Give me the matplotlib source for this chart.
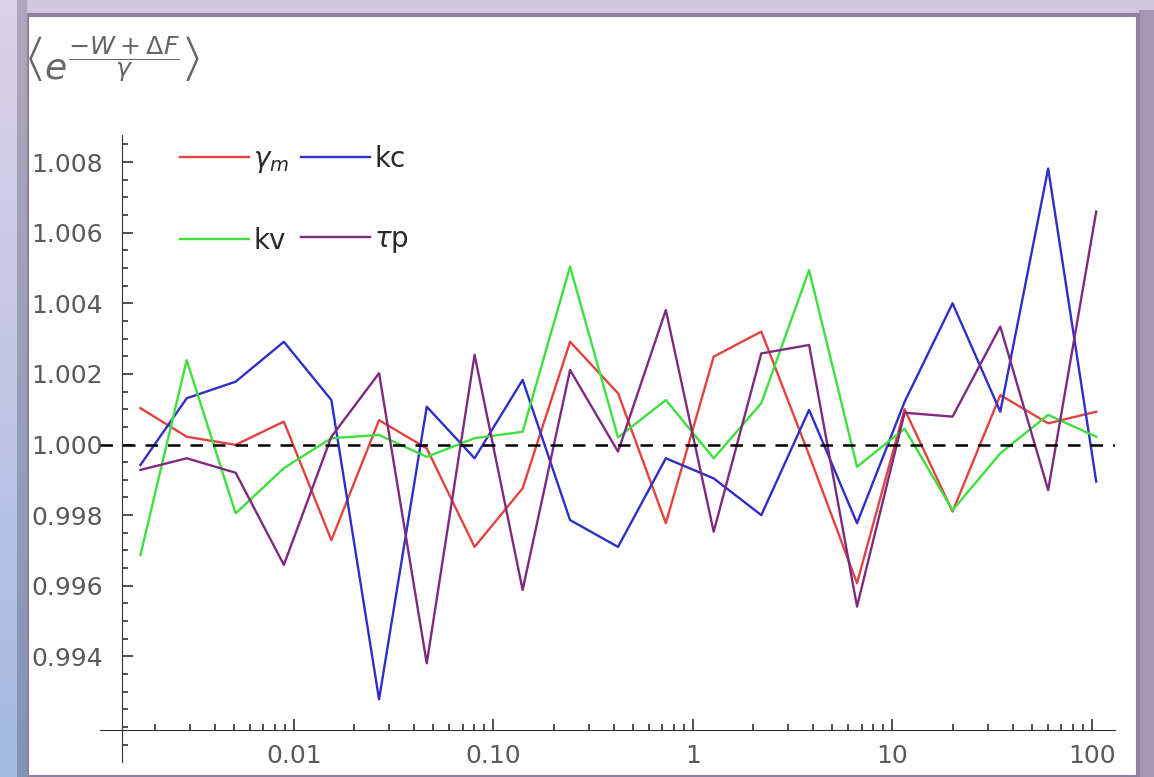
import numpy as np
import matplotlib
matplotlib.use("Agg")
import matplotlib.pyplot as plt
from matplotlib.patches import Rectangle
from matplotlib.ticker import FixedLocator, FixedFormatter, MultipleLocator, LogLocator, NullFormatter

# x grid (log spaced) and the four series
x = [0.0017, 0.0029, 0.0051, 0.0089, 0.0154, 0.0267, 0.0463, 0.0804, 0.140, 0.242,
     0.421, 0.731, 1.27, 2.20, 3.82, 6.64, 11.5, 20.0, 34.7, 60.3, 105.0]

gamma_m = [1.00103, 1.00022, 0.99999, 1.00065, 0.99729, 1.00069, 0.99989, 0.99710, 0.99876, 1.00291,
           1.00145, 0.99777, 1.00249, 1.00320, 0.99970, 0.99607, 1.00100, 0.99810, 1.00140, 1.00060, 1.00093]
kc = [0.99942, 1.00131, 1.00178, 1.00291, 1.00126, 0.99278, 1.00107, 0.99961, 1.00183, 0.99786,
      0.99710, 0.99961, 0.99904, 0.99800, 1.00098, 0.99777, 1.00121, 1.00400, 1.00093, 1.00782, 0.99895]
kv = [0.99687, 1.00239, 0.99805, 0.99933, 1.00018, 1.00027, 0.99965, 1.00018, 1.00036, 1.00504,
      1.00020, 1.00126, 0.99961, 1.00117, 1.00494, 0.99937, 1.00045, 0.99814, 0.99975, 1.00084, 1.00022]
tau_p = [0.99928, 0.99961, 0.99920, 0.99659, 1.00022, 1.00202, 0.99380, 1.00254, 0.99588, 1.00211,
         0.99980, 1.00381, 0.99753, 1.00258, 1.00282, 0.99541, 1.00090, 1.00079, 1.00334, 0.99871, 1.00660]

xticks = [0.01, 0.1, 1, 10, 100]
xticklabels = ["0.01", "0.10", "1", "10", "100"]
yticks = [0.994, 0.996, 0.998, 1.000, 1.002, 1.004, 1.006, 1.008]

W, H = 1154, 777
fig = plt.figure(figsize=(W / 100, H / 100), dpi=100, facecolor="#d3c6e2")

# white panel of the screenshot, behind everything
fig.patches.append(Rectangle((1139 / W, 0), 15 / W, (H - 10) / H, transform=fig.transFigure,
                             facecolor="#a596b6", edgecolor="none", zorder=-11))
fig.patches.append(Rectangle((27 / W, 0), (1138 - 27) / W, (H - 15) / H, transform=fig.transFigure,
                             facecolor="white", edgecolor="#8f80a0", linewidth=3, zorder=-10))

ax = fig.add_axes([100 / W, 15 / H, 1015 / W, 627 / H])
ax.patch.set_alpha(0)
ax.set_xscale("log")
ax.set_xlim(0.001066, 130.4)
ax.set_ylim(0.991006, 1.008768)

lw = 1.7
l1, = ax.plot(x, gamma_m, color="#e2433f", lw=lw)
l2, = ax.plot(x, kc, color="#2f2fc8", lw=lw)
l3, = ax.plot(x, kv, color="#3ee03e", lw=lw)
l4, = ax.plot(x, tau_p, color="#7d2a80", lw=lw)
ax.axhline(1.0, color="black", lw=1.8, ls=(0, (5, 4)), zorder=5)

# Mathematica-like crossing axes
for s in ["top", "right"]:
    ax.spines[s].set_visible(False)
ax.spines["left"].set_position(("data", 0.001374))
ax.spines["bottom"].set_position(("data", 0.991912))
ax.spines["left"].set_color("#333333")
ax.spines["bottom"].set_color("#333333")

ax.xaxis.set_major_locator(FixedLocator(xticks))
ax.xaxis.set_major_formatter(FixedFormatter(xticklabels))
ax.xaxis.set_minor_locator(LogLocator(base=10, subs=np.arange(2, 10)))
ax.xaxis.set_minor_formatter(NullFormatter())
ax.yaxis.set_major_locator(FixedLocator(yticks))
ax.yaxis.set_major_formatter(FixedFormatter([f"{v:.3f}" for v in yticks]))
ax.yaxis.set_minor_locator(MultipleLocator(0.0005))

ax.tick_params(which="both", direction="in", colors="#333333", labelcolor="#5a5a5a",
               labelsize=18, width=1.2)
ax.tick_params(which="major", length=8)
ax.tick_params(which="minor", length=4)
ax.tick_params(axis="y", pad=14)
ax.tick_params(axis="x", pad=10)

leg = ax.legend([l1, l3, l2, l4], [r"$\gamma_m$", "kv", "kc", r"$\tau$p"], ncol=2,
                loc="upper left", bbox_to_anchor=(0.065, 1.006), frameon=False, fontsize=20,
                handlelength=2.5, handletextpad=0.15, columnspacing=0.4, labelspacing=1.85,
                borderpad=0)
for t in leg.get_texts():
    t.set_color("#2a2a2a")

fig.text(24 / W, 1 - 62 / H, r"$\left\langle e^{\dfrac{-W+\Delta F}{\gamma}}\right\rangle$",
         fontsize=26, color="#666666", ha="left", va="center")

# left blue-ish border of the screenshot (clips the tick labels like the original)
edge = fig.add_axes([0, 0, 27 / W, 1])
edge.set_zorder(10)
grad = np.linspace(0, 1, 64)[:, None]
cols = np.array([[0.86, 0.82, 0.92], [0.64, 0.73, 0.88]])
img = cols[0] + (cols[1] - cols[0]) * grad[..., None]
img = np.repeat(img, 8, axis=1)
img[:, -3:] *= 0.8
edge.imshow(img, aspect="auto", extent=[0, 1, 0, 1])
edge.axis("off")

fig.savefig("out.png", dpi=100, facecolor=fig.get_facecolor())
